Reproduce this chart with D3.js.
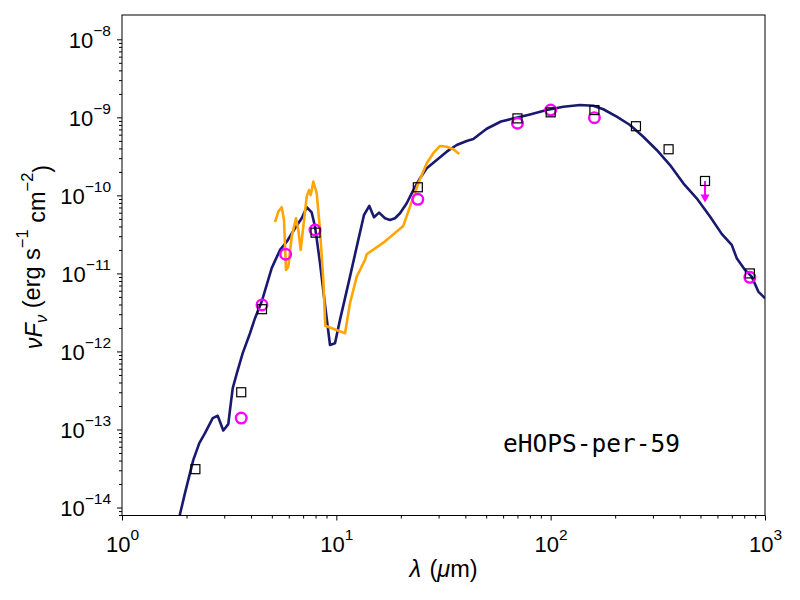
<!DOCTYPE html>
<html>
<head>
<meta charset="utf-8">
<script src="https://cdn.jsdelivr.net/npm/d3@7"></script>
<style>
  body { margin: 0; background: #fff; }
  text { font-family: "Liberation Sans", Arial, sans-serif; }
</style>
</head>
<body>
<svg id="chart" width="800" height="600"></svg>
<script>
// model SED (microns, erg s-1 cm-2)
var modelWave = [1.806, 1.865, 1.967, 2.151, 2.295, 2.439, 2.650, 2.796, 2.969, 3.133, 3.191, 3.286,
  3.451, 3.658, 3.956, 4.174, 4.486, 4.994, 5.461, 5.868, 6.415, 6.893, 7.274, 7.675, 7.954, 8.391,
  8.855, 9.343, 9.858, 10.40, 11.58, 12.66, 13.46, 14.25, 14.99, 15.82, 16.87, 17.80, 18.78, 19.82,
  21.30, 22.87, 24.57, 26.41, 29.40, 32.73, 36.44, 40.57, 43.56, 50.30, 58.65, 64.6, 80.1, 95.8,
  114.6, 137.1, 158.1, 176.1, 203.3, 234.5, 270.5, 312.4, 360.5, 415.8, 480.1, 553.8, 628.1, 699.5,
  738.0, 807.0, 866.9, 930.8, 1000];
var modelFlux = [5.19e-15, 8.24e-15, 1.53e-14, 4.08e-14, 6.68e-14, 8.97e-14, 1.40e-13, 1.50e-13,
  9.71e-14, 1.17e-13, 1.79e-13, 3.39e-13, 5.52e-13, 9.51e-13, 1.71e-12, 2.67e-12, 4.36e-12, 1.17e-11,
  2.00e-11, 2.55e-11, 3.79e-11, 5.09e-11, 7.05e-11, 6.04e-11, 3.98e-11, 1.36e-11, 3.95e-12, 1.21e-12,
  1.27e-12, 2.54e-12, 9.10e-12, 2.69e-11, 5.61e-11, 7.33e-11, 5.25e-11, 6.01e-11, 5.09e-11, 4.84e-11,
  5.09e-11, 5.90e-11, 7.92e-11, 1.17e-10, 1.66e-10, 2.23e-10, 2.84e-10, 3.63e-10, 4.42e-10, 4.98e-10,
  5.28e-10, 7.15e-10, 8.85e-10, 9.44e-10, 1.09e-9, 1.24e-9, 1.37e-9, 1.44e-9, 1.41e-9, 1.27e-9,
  1.02e-9, 7.98e-10, 5.65e-10, 3.82e-10, 2.45e-10, 1.43e-10, 9.18e-11, 5.35e-11, 3.21e-11, 2.32e-11,
  1.57e-11, 1.11e-11, 9.10e-12, 5.85e-12, 4.81e-12];

// IRS spectrum
var specWave = [5.175, 5.361, 5.561, 5.700, 5.824, 5.970, 6.192, 6.484, 6.647, 6.820, 7.013, 7.274,
  7.456, 7.593, 7.809, 8.099, 8.391, 8.693, 8.883, 10.98, 11.58, 12.45, 13.61, 13.86, 16.57, 20.53,
  22.07, 24.12, 26.41, 28.35, 30.45, 32.73, 35.13, 37.47];
var specFlux = [4.53e-11, 6.19e-11, 7.05e-11, 4.84e-11, 1.11e-11, 1.22e-11, 2.96e-11, 5.09e-11,
  3.61e-11, 2.00e-11, 3.98e-11, 9.64e-11, 1.17e-10, 1.01e-10, 1.50e-10, 1.06e-10, 3.61e-11, 8.26e-12,
  2.13e-12, 1.71e-12, 4.15e-12, 9.10e-12, 1.49e-11, 1.76e-11, 2.48e-11, 4.06e-11, 7.18e-11, 1.43e-10,
  2.58e-10, 3.47e-10, 4.30e-10, 4.21e-10, 3.90e-10, 3.40e-10];

// observed photometry (squares)
var photWave = [2.2, 3.6, 4.5, 8.0, 24, 70, 100, 160, 250, 355, 525, 850];
var photFlux = [3.1e-14, 3.0e-13, 3.48e-12, 3.33e-11, 1.27e-10, 9.7e-10, 1.16e-9, 1.24e-9,
  7.7e-10, 3.9e-10, 1.53e-10, 1.0e-11];

// model photometry (circles)
var fitWave = [3.6, 4.5, 5.8, 7.95, 24, 70, 100, 160, 850];
var fitFlux = [1.4e-13, 3.95e-12, 1.76e-11, 3.6e-11, 8.9e-11, 8.4e-10, 1.24e-9, 9.9e-10, 8.9e-12];

// upper limit
var limitWave = [525];
var limitFlux = [1.53e-10];
var limitTip = [8.1e-11];

var xTicks = [1, 10, 100, 1000];
var yTicks = [1e-14, 1e-13, 1e-12, 1e-11, 1e-10, 1e-9, 1e-8];
var sourceName = "eHOPS-per-59";

var mLeft = 122, mTop = 15, mRight = 765, mBottom = 515.5;

var svg = d3.select("#chart");

var x = d3.scaleLog().domain([1, 1000]).range([mLeft, mRight]);
var y = d3.scaleLog().domain([7.9e-15, 2.05e-8]).range([mBottom, mTop]);

function minors(lo, hi) {
  var out = [];
  for (var e = lo; e < hi; e++) {
    for (var m = 2; m <= 9; m++) out.push(m * Math.pow(10, e));
  }
  return out;
}
var xMinor = minors(0, 3);
var yMinor = minors(-15, -8).filter(function(v) { return v >= 7.9e-15 && v <= 2.05e-8; });

function supLabel(sel) {
  sel.selectAll(".tick text").each(function(d) {
    var t = d3.select(this);
    var ex = Math.round(Math.log10(d));
    t.text("10");
    t.append("tspan")
      .attr("dy", "-0.75em")
      .attr("font-size", "15.5px")
      .text(ex < 0 ? "\u2212" + (-ex) : ex);
  });
}

// x axis
var gx = svg.append("g")
  .attr("transform", "translate(0," + mBottom + ")")
  .call(d3.axisBottom(x).tickValues(xTicks).tickSize(5).tickPadding(8));
gx.call(supLabel);
svg.append("g")
  .attr("transform", "translate(0," + mBottom + ")")
  .call(d3.axisBottom(x).tickValues(xMinor).tickSize(3).tickFormat(""));

// y axis
var gy = svg.append("g")
  .attr("transform", "translate(" + mLeft + ",0)")
  .call(d3.axisLeft(y).tickValues(yTicks).tickSize(5).tickPadding(6));
gy.call(supLabel);
svg.append("g")
  .attr("transform", "translate(" + mLeft + ",0)")
  .call(d3.axisLeft(y).tickValues(yMinor).tickSize(3).tickFormat(""));

svg.selectAll(".domain").remove();
svg.selectAll(".tick line").attr("stroke", "#000").attr("stroke-width", 1);
gx.selectAll(".tick text").attr("font-size", "22px").attr("fill", "#000").attr("dy", "1.05em");
gy.selectAll(".tick text").attr("font-size", "22px").attr("fill", "#000").attr("dy", "0.36em");

// clip for curves
svg.append("clipPath").attr("id", "plot")
  .append("rect").attr("x", mLeft).attr("y", mTop)
  .attr("width", mRight - mLeft).attr("height", mBottom - mTop);

var line = d3.line()
  .x(function(d) { return x(d[0]); })
  .y(function(d) { return y(d[1]); });

var plot = svg.append("g").attr("clip-path", "url(#plot)");

plot.append("path")
  .datum(d3.zip(modelWave, modelFlux))
  .attr("d", line)
  .attr("fill", "none")
  .attr("stroke", "#191970")
  .attr("stroke-width", 2.6)
  .attr("stroke-linejoin", "round");

plot.append("path")
  .datum(d3.zip(specWave, specFlux))
  .attr("d", line)
  .attr("fill", "none")
  .attr("stroke", "#ffa500")
  .attr("stroke-width", 2.6)
  .attr("stroke-linejoin", "round");

// upper limit arrow
var lim = d3.zip(limitWave, limitFlux, limitTip);
plot.selectAll(".lim")
  .data(lim)
  .enter()
  .append("line")
  .attr("x1", function(d) { return x(d[0]); })
  .attr("x2", function(d) { return x(d[0]); })
  .attr("y1", function(d) { return y(d[1]); })
  .attr("y2", function(d) { return y(d[2]) - 6; })
  .attr("stroke", "#ff00ff")
  .attr("stroke-width", 2);
plot.selectAll(".limhead")
  .data(lim)
  .enter()
  .append("path")
  .attr("d", function(d) {
    var cx = x(d[0]), ty = y(d[2]);
    return "M" + (cx - 4.5) + "," + (ty - 8) + "L" + (cx + 4.5) + "," + (ty - 8) + "L" + cx + "," + ty + "Z";
  })
  .attr("fill", "#ff00ff");

plot.selectAll(".fit")
  .data(d3.zip(fitWave, fitFlux))
  .enter()
  .append("circle")
  .attr("cx", function(d) { return x(d[0]); })
  .attr("cy", function(d) { return y(d[1]); })
  .attr("r", 5.3)
  .attr("fill", "none")
  .attr("stroke", "#ff00ff")
  .attr("stroke-width", 2.4);

plot.selectAll(".phot")
  .data(d3.zip(photWave, photFlux))
  .enter()
  .append("rect")
  .attr("x", function(d) { return x(d[0]) - 4.5; })
  .attr("y", function(d) { return y(d[1]) - 4.5; })
  .attr("width", 9)
  .attr("height", 9)
  .attr("fill", "none")
  .attr("stroke", "#000")
  .attr("stroke-width", 1.2);

// frame
svg.append("rect")
  .attr("x", mLeft).attr("y", mTop)
  .attr("width", mRight - mLeft).attr("height", mBottom - mTop)
  .attr("fill", "none").attr("stroke", "#000").attr("stroke-width", 1);

// source name
svg.append("text")
  .attr("x", 503)
  .attr("y", 452)
  .style("font-family", "'DejaVu Sans Mono', monospace")
  .attr("font-size", "24.5px")
  .text(sourceName);

// axis labels
var xl = svg.append("text")
  .attr("x", (mLeft + mRight) / 2)
  .attr("y", 577)
  .attr("text-anchor", "middle")
  .attr("font-size", "23.5px")
  .attr("word-spacing", "2px");
xl.append("tspan").attr("font-style", "italic").text("\u03bb");
xl.append("tspan").text(" (");
xl.append("tspan").attr("font-style", "italic").text("\u03bc");
xl.append("tspan").text("m)");

var yl = svg.append("text")
  .attr("transform", "translate(42,257) rotate(-90)")
  .attr("text-anchor", "middle")
  .attr("font-size", "23.5px");
yl.append("tspan").attr("font-style", "italic").text("\u03bdF");
yl.append("tspan").attr("font-style", "italic").attr("font-size", "16.5px").attr("dy", "0.3em").text("\u03bd");
yl.append("tspan").attr("dy", "-0.3em").text(" (erg s");
yl.append("tspan").attr("font-size", "16.5px").attr("dy", "-0.7em").text("\u22121");
yl.append("tspan").attr("dy", "0.7em").text(" cm");
yl.append("tspan").attr("font-size", "16.5px").attr("dy", "-0.7em").text("\u22122");
yl.append("tspan").attr("dy", "0.7em").text(")");
</script>
</body>
</html>
